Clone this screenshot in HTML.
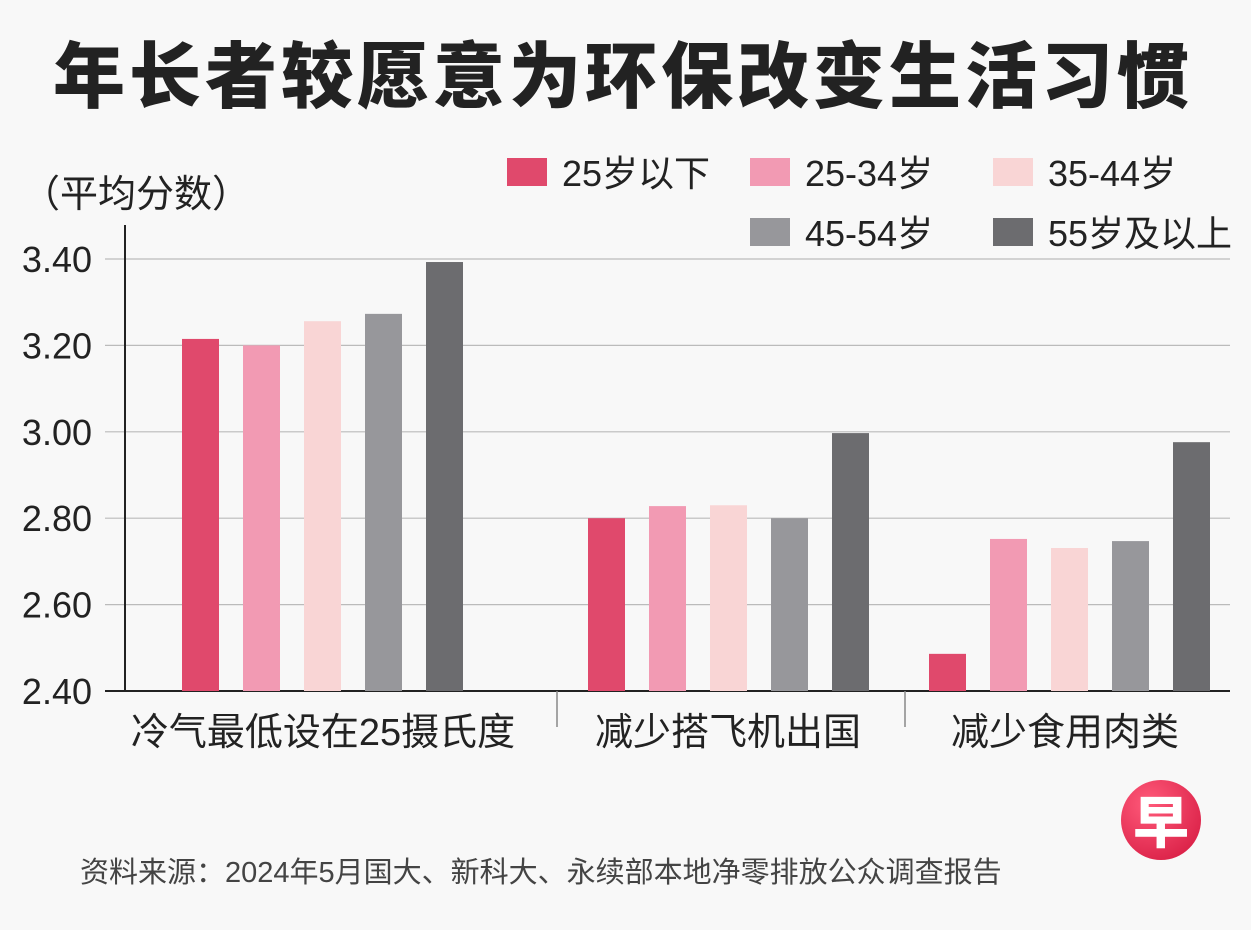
<!DOCTYPE html>
<html><head><meta charset="utf-8">
<style>
html,body{margin:0;padding:0;}
body{width:1251px;height:930px;background:#f8f8f8;overflow:hidden;position:relative;font-family:"Liberation Sans","Noto Sans CJK SC",sans-serif;color:#222;}
.t{position:absolute;white-space:nowrap;}
</style></head>
<body>
<div class="t" style="left:53px;top:18px;font-size:72px;font-weight:900;letter-spacing:4px;color:#222;">年长者较愿意为环保改变生活习惯</div>
<div class="t" style="left:22px;top:163px;font-size:38px;">（平均分数）</div>
<svg id="chart" width="1251" height="930" style="position:absolute;left:0;top:0;"></svg>
<div class="t" style="left:80px;top:849px;font-size:29px;color:#444;">资料来源：2024年5月国大、新科大、永续部本地净零排放公众调查报告</div>
<div style="position:absolute;left:1121px;top:780px;width:80px;height:80px;border-radius:50%;background:radial-gradient(circle at 35% 30%,#ff5a7a,#d2143c);color:#fff;font-size:56px;font-weight:900;text-align:center;line-height:80px;font-family:'Noto Sans CJK SC',sans-serif;">早</div>
<script>
const categories=["冷气最低设在25摄氏度","减少搭飞机出国","减少食用肉类"];
const seriesNames=["25岁以下","25-34岁","35-44岁","45-54岁","55岁及以上"];
const s0=[3.215,2.80,2.486];
const s1=[3.20,2.828,2.752];
const s2=[3.256,2.830,2.731];
const s3=[3.273,2.80,2.747];
const s4=[3.393,2.997,2.976];
const yTicks=[2.40,2.60,2.80,3.00,3.20,3.40];
const colors=["#e0496c","#f29ab3","#f9d5d5","#97979b","#6c6c6f"];
const series=[s0,s1,s2,s3,s4];
const groupStart=[182,588,929];
const groupCenter=[323,728,1065];
const NS="http://www.w3.org/2000/svg";
const svg=document.getElementById('chart');
const y0=691,yTop=259,vMin=2.4,vMax=3.4;
function y(v){return y0-(v-vMin)/(vMax-vMin)*(y0-yTop);}
function mk(tag,attrs){const e=document.createElementNS(NS,tag);for(const k in attrs)e.setAttribute(k,attrs[k]);svg.appendChild(e);return e;}
yTicks.forEach(t=>{
  if(t>vMin){const l=mk('line',{x1:105,x2:1230,y1:y(t),y2:y(t),stroke:'#bbb','stroke-width':1.2});
  
  }
  const tx=mk('text',{x:92,y:y(t)+13,'text-anchor':'end','font-size':36,fill:'#222','font-family':'Liberation Sans Narrow, Liberation Sans, sans-serif'});
  tx.textContent=t.toFixed(2);
  
  
});
const ax=mk('line',{x1:125,x2:125,y1:225,y2:y0,stroke:'#222','stroke-width':2});


const bx=mk('line',{x1:105,x2:1230,y1:y0,y2:y0,stroke:'#222','stroke-width':2});


[557,905].forEach(x=>{const l=mk('line',{x1:x,x2:x,y1:y0,y2:727,stroke:'#888','stroke-width':1.5});

});
const bw=37,step=61;
categories.forEach((c,gi)=>{
  series.forEach((s,si)=>{
    const r=mk('rect',{x:groupStart[gi]+si*step,y:y(s[gi]),width:bw,height:y0-y(s[gi]),fill:colors[si]});
    
    
  });
  const t=mk('text',{x:groupCenter[gi],y:745,'text-anchor':'middle','font-size':38,fill:'#222'});
  t.textContent=c;
  
  
});
const legPos=[[507,158],[750,158],[993,158],[750,218],[993,218]];
seriesNames.forEach((n,i)=>{
  const r=mk('rect',{x:legPos[i][0],y:legPos[i][1],width:40,height:28,fill:colors[i]});
  
  
  const t=mk('text',{x:legPos[i][0]+55,y:legPos[i][1]+28,'font-size':36,fill:'#222'});
  t.textContent=n;
  
  
});
</script>
</body></html>
